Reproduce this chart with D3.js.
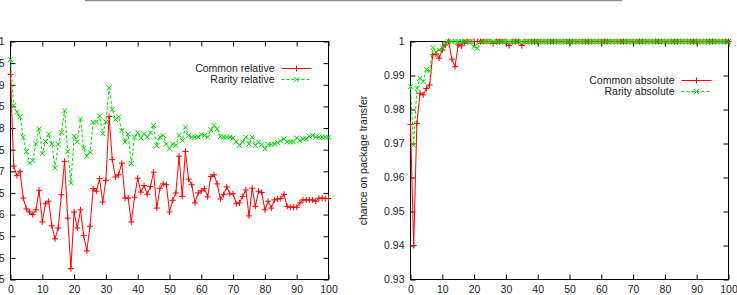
<!DOCTYPE html>
<html>
<head>
<meta charset="utf-8">
<script src="https://cdn.jsdelivr.net/npm/d3@7"></script>
<style>
  body { margin: 0; background: #fff; }
  svg { display: block; }
  text { font-family: "Liberation Sans", Arial, sans-serif; font-size: 10.5px; fill: #222; }
</style>
</head>
<body>
<div id="chart"></div>
<script>
// x ticks shared by both panels
const xTicks = [0, 10, 20, 30, 40, 50, 60, 70, 80, 90, 100];

// left panel (relative)
const relYTicks = [0.945, 0.95, 0.955, 0.96, 0.965, 0.97, 0.975, 0.98, 0.985, 0.99, 0.995, 1];
const commonRelative = [
  0.9924, 0.9712, 0.9690, 0.9700, 0.9638, 0.9613, 0.9606, 0.9600, 0.9611, 0.9656,
  0.9583, 0.9625, 0.9631, 0.9574, 0.9544, 0.9569, 0.9646, 0.9723, 0.9592, 0.9475,
  0.9606, 0.9569, 0.9611, 0.9552, 0.9516, 0.9573, 0.9660, 0.9654, 0.9683, 0.9629,
  0.9679, 0.9827, 0.9727, 0.9687, 0.9692, 0.9719, 0.9638, 0.9638, 0.9583, 0.9640,
  0.9684, 0.9652, 0.9667, 0.9647, 0.9665, 0.9698, 0.9615, 0.9661, 0.9671, 0.9669,
  0.9606, 0.9633, 0.9650, 0.9735, 0.9642, 0.9746, 0.9682, 0.9669, 0.9627, 0.9650,
  0.9655, 0.9660, 0.9641, 0.9688, 0.9692, 0.9671, 0.9636, 0.9646, 0.9664, 0.9648,
  0.9648, 0.9625, 0.9627, 0.9642, 0.9657, 0.9597, 0.9661, 0.9619, 0.9654, 0.9651,
  0.9611, 0.9631, 0.9615, 0.9634, 0.9636, 0.9637, 0.9647, 0.9619, 0.9617, 0.9617,
  0.9617, 0.9627, 0.9634, 0.9634, 0.9634, 0.9634, 0.9631, 0.9638, 0.9638, 0.9637,
  0.9637
];
const rarityRelative = [
  0.9958, 0.9852, 0.9837, 0.9826, 0.9779, 0.9746, 0.9719, 0.9725, 0.9764, 0.9798,
  0.9741, 0.9769, 0.9786, 0.9763, 0.9708, 0.9762, 0.9790, 0.9840, 0.9746, 0.9673,
  0.9781, 0.9768, 0.9821, 0.9754, 0.9735, 0.9744, 0.9813, 0.9814, 0.9828, 0.9787,
  0.9814, 0.9893, 0.9843, 0.9820, 0.9826, 0.9794, 0.9768, 0.9786, 0.9718, 0.9779,
  0.9789, 0.9777, 0.9787, 0.9779, 0.9789, 0.9806, 0.9759, 0.9779, 0.9783, 0.9763,
  0.9752, 0.9763, 0.9760, 0.9783, 0.9771, 0.9802, 0.9783, 0.9779, 0.9779, 0.9779,
  0.9785, 0.9783, 0.9779, 0.9796, 0.9806, 0.9798, 0.9780, 0.9779, 0.9779, 0.9779,
  0.9777, 0.9768, 0.9760, 0.9768, 0.9779, 0.9763, 0.9779, 0.9760, 0.9768, 0.9762,
  0.9752, 0.9762, 0.9762, 0.9763, 0.9766, 0.9771, 0.9775, 0.9768, 0.9768, 0.9768,
  0.9777, 0.9771, 0.9775, 0.9775, 0.9781, 0.9783, 0.9779, 0.9779, 0.9779, 0.9779,
  0.9779
];

// right panel (absolute)
const absYTicks = [0.93, 0.94, 0.95, 0.96, 0.97, 0.98, 0.99, 1];
const commonAbsolute = [
  0.9756, 0.9400, 0.9759, 0.9848, 0.9843, 0.9862, 0.9872, 0.9961, 0.9963, 0.9951,
  0.9975, 0.9990, 1, 0.9948, 0.9926, 0.9990, 0.9987, 0.9997, 1, 1,
  1, 1, 1, 1, 1, 1, 0.9994, 1, 1, 1,
  1, 0.9988, 1, 1, 1, 0.9988, 1, 1, 1, 1,
  1, 1, 1, 1, 1, 1, 1, 1, 1, 1,
  1, 1, 1, 1, 1, 1, 1, 1, 1, 1,
  1, 1, 1, 1, 1, 1, 1, 1, 1, 1,
  1, 1, 1, 1, 1, 1, 1, 1, 1, 1,
  1, 1, 1, 1, 1, 1, 1, 1, 1, 1,
  1, 1, 1, 1, 1, 1, 1, 1, 1, 1,
  1
];
const rarityAbsolute = [
  0.9867, 0.9695, 0.9862, 0.9892, 0.9882, 0.9918, 0.9913, 0.9982, 0.9969, 0.9975,
  0.9982, 0.9995, 1, 1, 1, 1, 1, 1, 1, 1,
  0.9985, 0.9980, 1, 1, 1, 1, 1, 1, 1, 1,
  1, 1, 1, 1, 1, 1, 1, 1, 1, 1,
  1, 1, 1, 1, 1, 1, 1, 1, 1, 1,
  1, 1, 1, 1, 1, 1, 1, 1, 1, 1,
  1, 1, 1, 1, 1, 1, 1, 1, 1, 1,
  1, 1, 1, 1, 1, 1, 1, 1, 1, 1,
  1, 1, 1, 1, 1, 1, 1, 1, 1, 1,
  1, 1, 1, 1, 1, 1, 1, 1, 1, 1,
  1
];

const width = 737, height = 295;
const RED = '#ff0000', GREEN = '#00dd00';

const svg = d3.select('#chart').append('svg')
  .attr('width', width)
  .attr('height', height);

// grey rule at the very top
svg.append('line')
  .attr('x1', 85).attr('x2', 622)
  .attr('y1', 0.5).attr('y2', 0.5)
  .attr('stroke', '#8c8c8c')
  .attr('stroke-width', 1.5);

// gnuplot style point markers
const plus = (x, y, s = 3) => `M${x - s},${y}H${x + s}M${x},${y - s}V${y + s}`;
const cross = (x, y, s = 2.5) => `M${x - s},${y - s}L${x + s},${y + s}M${x - s},${y + s}L${x + s},${y - s}`;

function drawPanel(opts) {
  const { left, right, top, bottom, yDomain, yTicks, series, legendY, yLabel } = opts;

  const x = d3.scaleLinear().domain([0, 100]).range([left, right]);
  const y = d3.scaleLinear().domain(yDomain).range([bottom, top]);

  const g = svg.append('g');

  // ticks on all four sides, pointing inward
  const ax = (sel) => sel.call(s => s.select('.domain').remove())
    .call(s => s.selectAll('line').attr('stroke', '#000'));

  g.append('g').attr('transform', `translate(0,${bottom})`)
    .call(d3.axisBottom(x).tickValues(xTicks).tickSize(-5).tickPadding(6).tickFormat(d3.format('d')))
    .call(ax);
  g.append('g').attr('transform', `translate(0,${top})`)
    .call(d3.axisTop(x).tickValues(xTicks).tickSize(-5).tickFormat(''))
    .call(ax);
  g.append('g').attr('transform', `translate(${left},0)`)
    .call(d3.axisLeft(y).tickValues(yTicks).tickSize(-5).tickPadding(6).tickFormat(d => String(+d.toFixed(3))))
    .call(ax);
  g.append('g').attr('transform', `translate(${right},0)`)
    .call(d3.axisRight(y).tickValues(yTicks).tickSize(-5).tickFormat(''))
    .call(ax);
  g.selectAll('.tick text')
    .attr('fill', '#222')
    .style('font-family', '"Liberation Sans", Arial, sans-serif')
    .style('font-size', '10.5px');

  // plot frame
  g.append('rect')
    .attr('x', left).attr('y', top)
    .attr('width', right - left).attr('height', bottom - top)
    .attr('fill', 'none').attr('stroke', '#000');

  const line = d3.line()
    .x((d, i) => x(i))
    .y(d => y(d));

  series.forEach((s, k) => {
    g.append('path')
      .datum(s.values)
      .attr('d', line)
      .attr('fill', 'none')
      .attr('stroke', s.color)
      .attr('stroke-width', 1)
      .attr('stroke-dasharray', s.dash || null);

    g.append('path')
      .attr('d', s.values.map((v, i) => s.marker(x(i), y(v))).join(''))
      .attr('fill', 'none')
      .attr('stroke', s.color)
      .attr('stroke-width', 1);

    // legend entry
    const ly = legendY + k * 11;
    const lx1 = right - 47, lx2 = right - 17;
    g.append('text')
      .attr('x', lx1 - 7).attr('y', ly)
      .attr('dy', '0.35em')
      .attr('text-anchor', 'end')
      .text(s.name);
    g.append('line')
      .attr('x1', lx1).attr('x2', lx2)
      .attr('y1', ly).attr('y2', ly)
      .attr('stroke', s.color)
      .attr('stroke-dasharray', s.dash || null);
    g.append('path')
      .attr('d', s.marker((lx1 + lx2) / 2, ly))
      .attr('stroke', s.color)
      .attr('fill', 'none');
  });

  if (yLabel) {
    g.append('text')
      .attr('transform', `translate(${left - 44},${(top + bottom) / 2}) rotate(-90)`)
      .attr('text-anchor', 'middle')
      .text(yLabel);
  }
}

drawPanel({
  left: 10.5, right: 328.5, top: 41.5, bottom: 279.5,
  yDomain: [0.945, 1], yTicks: relYTicks,
  legendY: 68.5,
  series: [
    { name: 'Common relative', values: commonRelative, color: RED, marker: plus },
    { name: 'Rarity relative', values: rarityRelative, color: GREEN, marker: cross, dash: '3,2' }
  ]
});

drawPanel({
  left: 410.5, right: 728.5, top: 41.5, bottom: 279.5,
  yDomain: [0.93, 1], yTicks: absYTicks,
  legendY: 80.5,
  yLabel: 'chance on package transfer',
  series: [
    { name: 'Common absolute', values: commonAbsolute, color: RED, marker: plus },
    { name: 'Rarity absolute', values: rarityAbsolute, color: GREEN, marker: cross, dash: '3,2' }
  ]
});
</script>
</body>
</html>
